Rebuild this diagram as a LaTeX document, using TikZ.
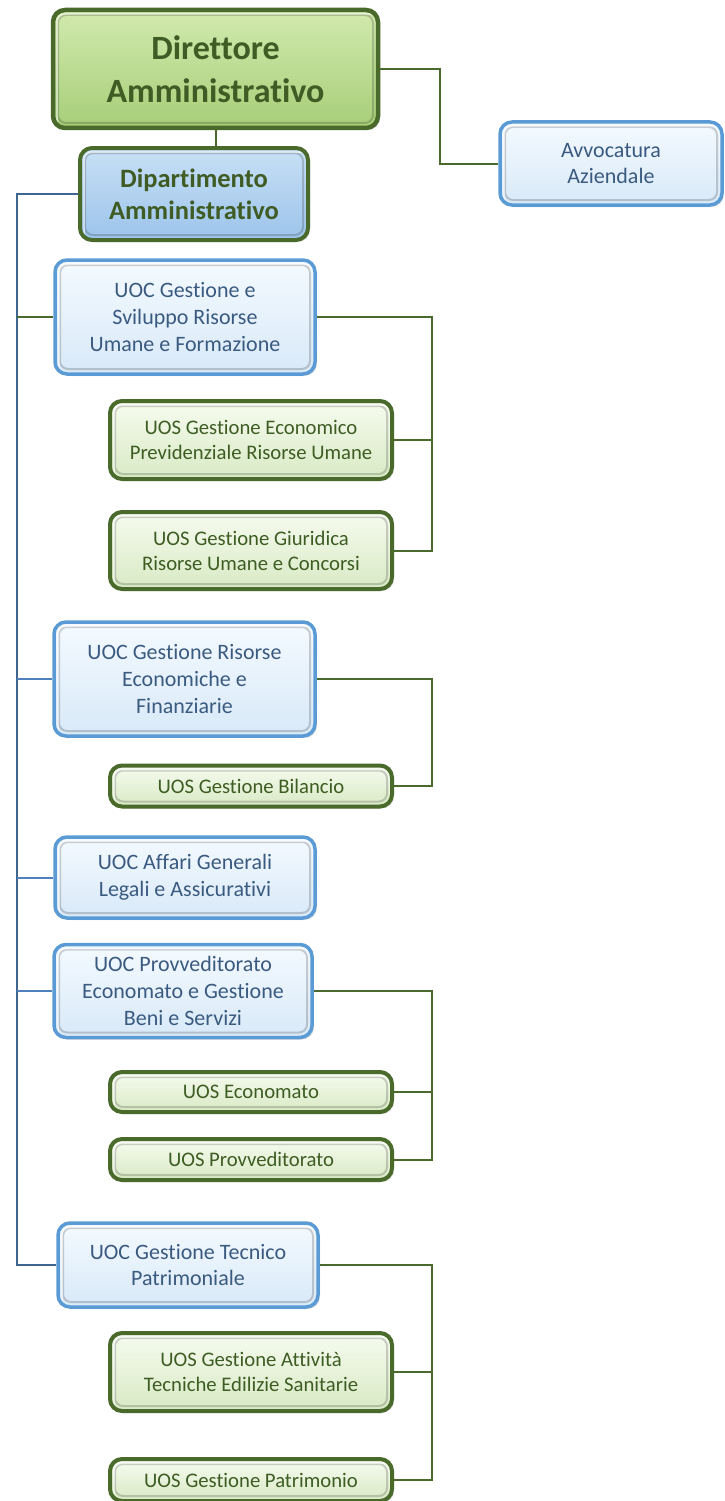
\documentclass[tikz,border=0pt]{standalone}
\usepackage{fontspec}
\setmainfont{Carlito}[RawFeature=-liga]
\usetikzlibrary{shadings,shadows}
\definecolor{dgreen}{HTML}{4A6A2C}
\definecolor{dgtext}{HTML}{3E5C24}
\definecolor{bborder}{HTML}{5B9BD5}
\definecolor{btext}{HTML}{3B5A80}
\definecolor{trunkc}{HTML}{3E6690}
\definecolor{branchc}{HTML}{4F81BD}
\definecolor{dirtop}{HTML}{D2EAAE}
\definecolor{dirbot}{HTML}{A6CE78}
\definecolor{deptop}{HTML}{C8E0F6}
\definecolor{depbot}{HTML}{9CC4EA}
\definecolor{uoctop}{HTML}{F4FAFF}
\definecolor{uocbot}{HTML}{D8E9F8}
\definecolor{uostop}{HTML}{F6FBEF}
\definecolor{uosbot}{HTML}{D8EAC4}
\tikzset{
  bevel/.style={path picture={
     \draw[black, opacity=0.18, line width=2pt, rounded corners=8pt]
       ([shift={(5pt,-5pt)}]path picture bounding box.north west) rectangle
       ([shift={(-5pt,5pt)}]path picture bounding box.south east);
     \draw[white, opacity=0.6, line width=1.5pt, rounded corners=8pt]
       ([shift={(4pt,-6pt)}]path picture bounding box.south west) --
       ([shift={(4pt,-4pt)}]path picture bounding box.north west) --
       ([shift={(-6pt,-4pt)}]path picture bounding box.north east);
  }},
  base/.style={rounded corners=12pt, inner sep=0pt, align=center, bevel, drop shadow={shadow xshift=2pt, shadow yshift=-2pt, opacity=0.25}},
  dirbox/.style={base, draw=dgreen, line width=4.5pt, top color=dirtop, bottom color=dirbot, text=dgtext,
     font=\fontsize{34}{43}\selectfont\bfseries},
  depbox/.style={base, draw=dgreen, line width=4pt, top color=deptop, bottom color=depbot, text=dgtext,
     font=\fontsize{26.5}{32}\selectfont\bfseries},
  uocbox/.style={base, draw=bborder, line width=3.5pt, top color=uoctop, bottom color=uocbot, text=btext,
     font=\fontsize{22}{26.7}\selectfont},
  uosbox/.style={base, draw=dgreen, line width=4pt, top color=uostop, bottom color=uosbot, text=dgtext,
     font=\fontsize{20.7}{25}\selectfont},
  gline/.style={draw=dgreen, line width=2pt},
  bline/.style={draw=branchc, line width=2pt},
  tline/.style={draw=trunkc, line width=2pt},
}
\begin{document}
\begin{tikzpicture}[x=1pt,y=-1pt]
\useasboundingbox (0,0) rectangle (724,1501);
% top
\node[dirbox, minimum width=325pt, minimum height=118pt] (dir) at (215.5,69) {Direttore\\Amministrativo};
\node[depbox, minimum width=228pt, minimum height=92pt] (dep) at (194,194) {Dipartimento\\Amministrativo};
\node[uocbox, minimum width=222pt, minimum height=83pt] (avv) at (611,163.5) {Avvocatura\\Aziendale};
% UOC
\node[uocbox, minimum width=260pt, minimum height=114pt] (uoc1) at (185,317) {UOC Gestione e\\Sviluppo Risorse\\Umane e Formazione};
\node[uocbox, minimum width=261pt, minimum height=114pt] (uoc2) at (184.5,679) {UOC Gestione Risorse\\Economiche e\\Finanziarie};
\node[uocbox, minimum width=260pt, minimum height=81pt] (uoc3) at (185,877.5) {UOC Affari Generali\\Legali e Assicurativi};
\node[uocbox, minimum width=258pt, minimum height=93pt] (uoc4) at (183,991) {UOC Provveditorato\\Economato e Gestione\\Beni e Servizi};
\node[uocbox, minimum width=260pt, minimum height=84pt] (uoc5) at (188,1265) {UOC Gestione Tecnico\\Patrimoniale};
% UOS
\node[uosbox, minimum width=282pt, minimum height=78pt] (uos1) at (251,440) {UOS Gestione Economico\\Previdenziale Risorse Umane};
\node[uosbox, minimum width=282pt, minimum height=77pt] (uos2) at (251,550.5) {UOS Gestione Giuridica\\Risorse Umane e Concorsi};
\node[uosbox, minimum width=282pt, minimum height=41pt] (uos3) at (251,786) {UOS Gestione Bilancio};
\node[uosbox, minimum width=282pt, minimum height=40pt] (uos4) at (251,1092) {UOS Economato};
\node[uosbox, minimum width=282pt, minimum height=41pt] (uos5) at (251,1159.5) {UOS Provveditorato};
\node[uosbox, minimum width=282pt, minimum height=78pt] (uos6) at (251,1372) {UOS Gestione Attività\\Tecniche Edilizie Sanitarie};
\node[uosbox, minimum width=282pt, minimum height=42pt] (uos7) at (251,1480) {UOS Gestione Patrimonio};
% connector guides
\coordinate (trunk) at (17,194);
\coordinate (ax) at (440,0);
\coordinate (rx) at (432,0);
% top connectors
\draw[gline] (dir.south) -- (dir.south |- dep.north);
\draw[gline] (dir.east) -- (dir.east -| ax) |- (avv.west);
% trunk
\draw[tline] (dep.west) -- (trunk) |- (uoc5.west);
\draw[gline] (uoc1.west) -- (uoc1.west -| trunk);
\draw[bline] (uoc2.west) -- (uoc2.west -| trunk);
\draw[bline] (uoc3.west) -- (uoc3.west -| trunk);
\draw[bline] (uoc4.west) -- (uoc4.west -| trunk);
% right connectors
\draw[gline] (uoc1.east) -- (uoc1.east -| rx) |- (uos2.east);
\draw[gline] (uos1.east) -- (uos1.east -| rx);
\draw[gline] (uoc2.east) -- (uoc2.east -| rx) |- (uos3.east);
\draw[gline] (uoc4.east) -- (uoc4.east -| rx) |- (uos5.east);
\draw[gline] (uos4.east) -- (uos4.east -| rx);
\draw[gline] (uoc5.east) -- (uoc5.east -| rx) |- (uos7.east);
\draw[gline] (uos6.east) -- (uos6.east -| rx);
\end{tikzpicture}
\end{document}
